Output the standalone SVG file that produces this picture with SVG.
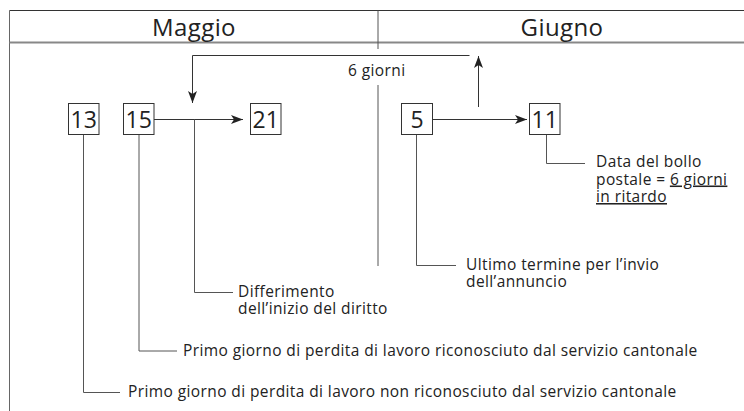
<svg xmlns="http://www.w3.org/2000/svg" width="744" height="411" viewBox="0 0 744 411">
<style>
text{font-family:"Open Sans","Noto Sans","Liberation Sans",sans-serif;fill:#222;font-weight:400}
.hd{font-size:24px;text-anchor:middle;letter-spacing:0.4px}
.num{font-size:23px;text-anchor:middle}
.lb{font-size:15.5px;letter-spacing:0.4px}
.box{fill:#fff;stroke:#333;stroke-width:1}
.ln{fill:none;stroke:#333;stroke-width:1}
.cn{fill:none;stroke:#555;stroke-width:1}
.u{text-decoration:underline}
</style>
<defs>
<marker id="ah" markerUnits="userSpaceOnUse" markerWidth="14" markerHeight="10" refX="12" refY="4.5" orient="auto">
<path d="M0,0 L12,4.5 L0,9 L3,4.5 Z" fill="#222"/>
</marker>
</defs>
<g id="frame">
<line x1="9.5" y1="10.5" x2="744" y2="10.5" stroke="#333" stroke-width="1.2"/>
<line x1="9.5" y1="10.5" x2="9.5" y2="411" stroke="#666" stroke-width="1"/>
<line x1="9.5" y1="42.5" x2="744" y2="42.5" stroke="#888" stroke-width="2"/>
<line x1="378" y1="10.5" x2="378" y2="49" stroke="#555" stroke-width="1"/>
<line x1="378" y1="85" x2="378" y2="266" stroke="#555" stroke-width="1"/>
<text class="hd" x="194" y="36">Maggio</text>
<text class="hd" x="562" y="36">Giugno</text>
</g>
<g id="connectors">
<path class="ln" d="M154,119.5 H243" marker-end="url(#ah)"/>
<path class="ln" d="M432.5,119.5 H527" marker-end="url(#ah)"/>
<path class="ln" d="M478.5,107 V56" marker-end="url(#ah)"/>
<path class="ln" d="M469.5,55.5 H192.5 V103" marker-end="url(#ah)"/>
<path class="cn" d="M83.5,134.5 V392.5 H120"/>
<path class="cn" d="M139,134.5 V351 H177"/>
<path class="cn" d="M194.5,119.5 V292.5 H233"/>
<path class="cn" d="M416.5,134.5 V265.5 H456"/>
<path class="cn" d="M546.5,134.5 V163.5 H585"/>
<text class="lb" x="348" y="76">6 giorni</text>
</g>
<g id="n13"><rect class="box" x="68.5" y="103.5" width="30.5" height="31"/><text class="num" x="83.75" y="128">13</text></g>
<g id="n15"><rect class="box" x="123.5" y="103.5" width="30.5" height="31"/><text class="num" x="138.75" y="128">15</text></g>
<g id="n21"><rect class="box" x="250.5" y="103.5" width="30.5" height="31"/><text class="num" x="265.75" y="128">21</text></g>
<g id="n5"><rect class="box" x="401.5" y="103.5" width="31" height="31"/><text class="num" x="417" y="128">5</text></g>
<g id="n11"><rect class="box" x="529.5" y="103.5" width="30.5" height="31"/><text class="num" x="544.75" y="128">11</text></g>
<g id="l-data"><text class="lb" x="596" y="167">Data del bollo</text><text class="lb" x="596" y="184.5">postale = <tspan class="u">6 giorni</tspan></text><text class="lb" x="596" y="202"><tspan class="u">in ritardo</tspan></text></g>
<g id="l-ultimo"><text class="lb" x="466" y="270">Ultimo termine per l’invio</text><text class="lb" x="466" y="287">dell’annuncio</text></g>
<g id="l-diff"><text class="lb" x="238" y="297">Differimento</text><text class="lb" x="238" y="314">dell’inizio del diritto</text></g>
<g id="l-primo"><text class="lb" x="183" y="356">Primo giorno di perdita di lavoro riconosciuto dal servizio cantonale</text></g>
<g id="l-non"><text class="lb" x="128" y="397">Primo giorno di perdita di lavoro non riconosciuto dal servizio cantonale</text></g>
</svg>
